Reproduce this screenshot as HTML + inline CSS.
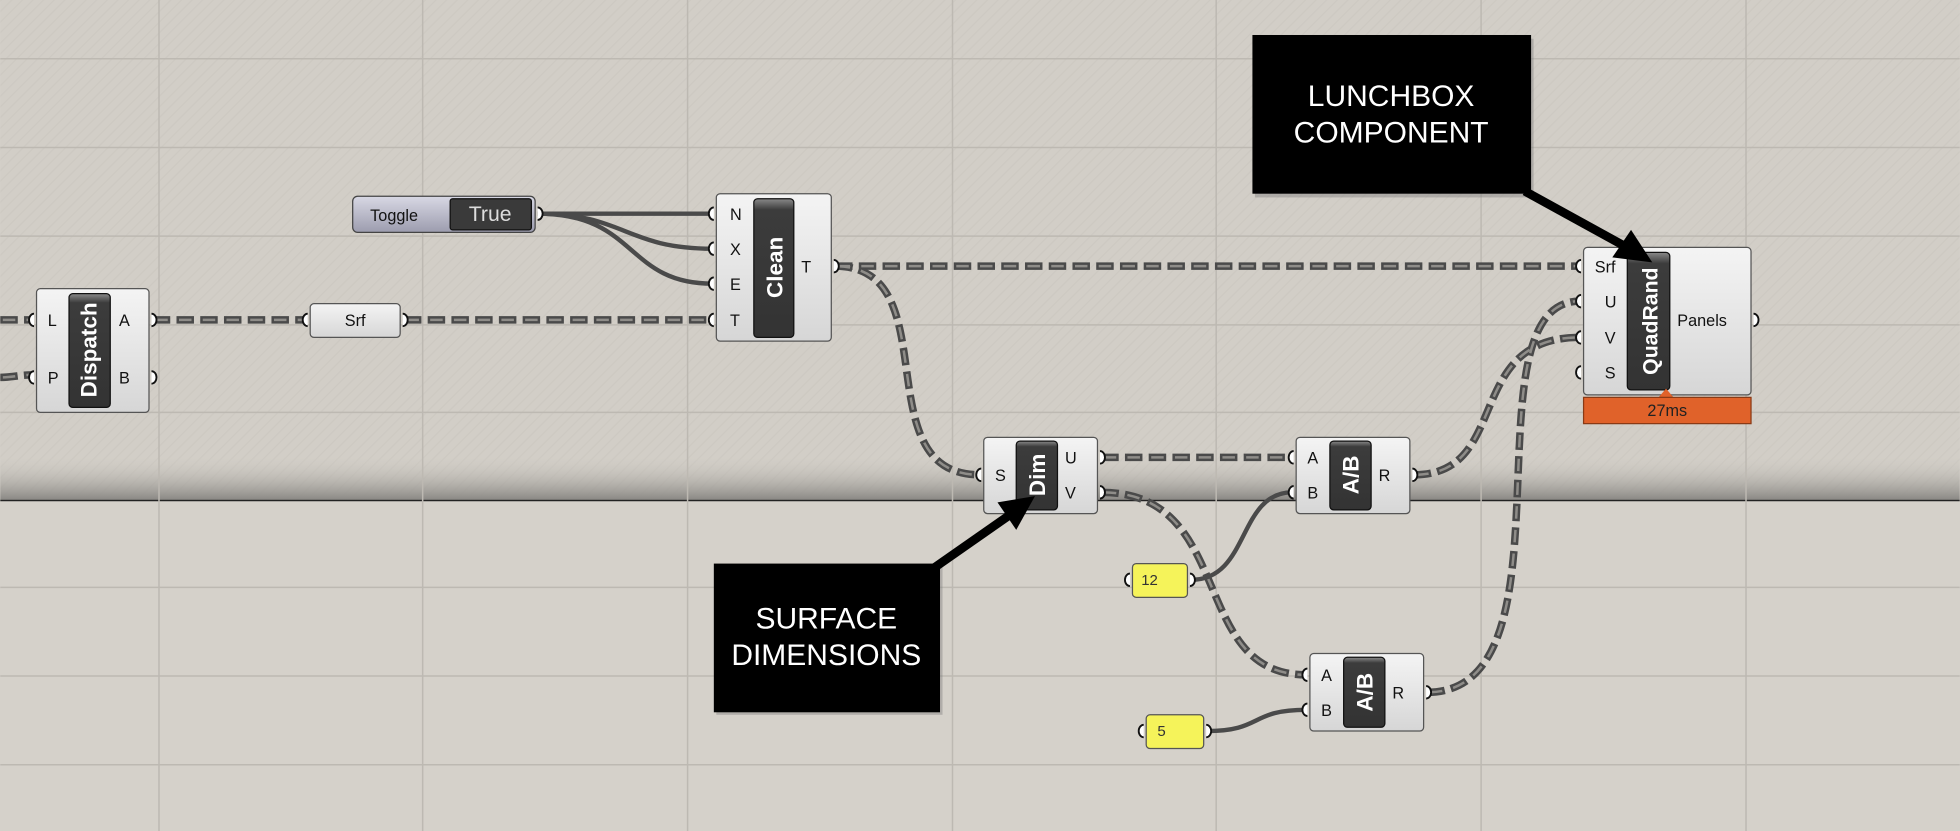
<!DOCTYPE html>
<html><head><meta charset="utf-8"><style>
html,body{margin:0;padding:0;width:1960px;height:831px;overflow:hidden;background:#d5d1ca}
svg{display:block}
text{font-family:"Liberation Sans",sans-serif}
</style></head><body>
<svg width="1960" height="831" viewBox="0 0 1568 665" xmlns="http://www.w3.org/2000/svg">
<defs>
<linearGradient id="shadow" x1="0" y1="0" x2="0" y2="1">
<stop offset="0" stop-color="#cfcbc4" stop-opacity="0"/>
<stop offset="1" stop-color="#8a8884"/>
</linearGradient>
<linearGradient id="comp" x1="0" y1="0" x2="0" y2="1">
<stop offset="0" stop-color="#f4f4f4"/><stop offset="1" stop-color="#d6d6d6"/>
</linearGradient>
<linearGradient id="bar" x1="0" y1="0" x2="0" y2="1">
<stop offset="0" stop-color="#8a8a8a"/><stop offset="0.08" stop-color="#3c3c3c"/><stop offset="1" stop-color="#333"/>
</linearGradient>
<linearGradient id="tog" x1="0" y1="0" x2="0" y2="1">
<stop offset="0" stop-color="#d8d8e4"/><stop offset="1" stop-color="#9c9cae"/>
</linearGradient>
<pattern id="hatch" width="6" height="6" patternUnits="userSpaceOnUse" patternTransform="rotate(45)">
<rect width="6" height="6" fill="#d2cec7"/><line x1="0" y1="0" x2="0" y2="6" stroke="#cdc9c2" stroke-width="2"/>
</pattern>
</defs>
<rect x="0" y="0" width="1568" height="665" fill="#d5d1ca"/>
<rect x="0" y="0" width="1568" height="400" fill="url(#hatch)"/>
<rect x="0" y="365" width="1568" height="35" fill="url(#shadow)"/>
<line x1="0" y1="400.5" x2="1568" y2="400.5" stroke="#222" stroke-width="1.2"/>
<g stroke="#bdb9b2" stroke-width="1.2">
<line x1="127" y1="0" x2="127" y2="665"/><line x1="338" y1="0" x2="338" y2="665"/>
<line x1="550" y1="0" x2="550" y2="665"/><line x1="762" y1="0" x2="762" y2="665"/>
<line x1="973" y1="0" x2="973" y2="665"/><line x1="1185" y1="0" x2="1185" y2="665"/>
<line x1="1397" y1="0" x2="1397" y2="665"/>
<line x1="0" y1="47" x2="1568" y2="47"/><line x1="0" y1="118" x2="1568" y2="118"/>
<line x1="0" y1="189" x2="1568" y2="189"/><line x1="0" y1="260" x2="1568" y2="260"/>
<line x1="0" y1="330" x2="1568" y2="330"/><line x1="0" y1="470" x2="1568" y2="470"/>
<line x1="0" y1="541" x2="1568" y2="541"/><line x1="0" y1="612" x2="1568" y2="612"/>
</g>

<g fill="none">
<g stroke="#4a4a4a" stroke-width="6" stroke-dasharray="14 5">
<path d="M0,256 L25,256"/>
<path d="M0,302 C10,302 15,300 25,300"/>
<path d="M122,256 L245,256"/>
<path d="M323,256 L570,256"/>
<path d="M668,213 L1264,213"/>
<path d="M668,213 C760,213 690,380 784,380"/>
<path d="M881,366 L1034,366"/>
<path d="M881,394 C990,394 950,540 1045,540"/>
<path d="M1131,380 C1210,380 1170,270 1264,270"/>
<path d="M1142,554 C1265,554 1170,241 1264,241"/>
</g>
<g stroke="#8f8d89" stroke-width="2" stroke-dasharray="10 9" stroke-dashoffset="-2">
<path d="M0,256 L25,256"/>
<path d="M0,302 C10,302 15,300 25,300"/>
<path d="M122,256 L245,256"/>
<path d="M323,256 L570,256"/>
<path d="M668,213 L1264,213"/>
<path d="M668,213 C760,213 690,380 784,380"/>
<path d="M881,366 L1034,366"/>
<path d="M881,394 C990,394 950,540 1045,540"/>
<path d="M1131,380 C1210,380 1170,270 1264,270"/>
<path d="M1142,554 C1265,554 1170,241 1264,241"/>
</g>
<g stroke="#4a4a4a" stroke-width="3.5">
<path d="M430,171 L570,171"/>
<path d="M430,171 C500,171 500,199 570,199"/>
<path d="M430,171 C510,171 500,227 570,227"/>
<path d="M953,464 C1000,464 990,394 1034,394"/>
<path d="M966,585 C1010,585 1000,568 1045,568"/>
</g>
</g>

<g font-size="13" fill="#111">
<rect x="29" y="231" width="90" height="99" rx="3" fill="url(#comp)" stroke="#555"/>
<rect x="55" y="235" width="33" height="91" rx="3" fill="url(#bar)" stroke="#111"/>
<text transform="translate(77,280) rotate(-90)" text-anchor="middle" font-weight="bold" font-size="18" fill="#fff">Dispatch</text>
<text x="38" y="261">L</text><text x="38" y="307">P</text>
<text x="95" y="261">A</text><text x="95" y="307">B</text>
<rect x="248" y="243" width="72" height="27" rx="3" fill="url(#comp)" stroke="#555"/>
<text x="284" y="261" text-anchor="middle">Srf</text>
<rect x="282" y="157" width="146" height="29" rx="4" fill="url(#tog)" stroke="#444"/>
<text x="296" y="177">Toggle</text>
<rect x="360" y="159" width="65" height="25" rx="2" fill="#3a3a3a" stroke="#111"/>
<text x="392" y="177" text-anchor="middle" fill="#ddd" font-family="Liberation Mono,monospace" font-size="17">True</text>
<rect x="573" y="155" width="92" height="118" rx="3" fill="url(#comp)" stroke="#555"/>
<rect x="603" y="159" width="32" height="111" rx="3" fill="url(#bar)" stroke="#111"/>
<text transform="translate(626,214) rotate(-90)" text-anchor="middle" font-weight="bold" font-size="18" fill="#fff">Clean</text>
<text x="584" y="176">N</text><text x="584" y="204">X</text><text x="584" y="232">E</text><text x="584" y="261">T</text>
<text x="641" y="218">T</text>
<rect x="787" y="350" width="91" height="61" rx="3" fill="url(#comp)" stroke="#555"/>
<rect x="813" y="353" width="33" height="55" rx="3" fill="url(#bar)" stroke="#111"/>
<text transform="translate(836,380) rotate(-90)" text-anchor="middle" font-weight="bold" font-size="18" fill="#fff">Dim</text>
<text x="796" y="385">S</text><text x="852" y="371">U</text><text x="852" y="399">V</text>
<rect x="1037" y="350" width="91" height="61" rx="3" fill="url(#comp)" stroke="#555"/>
<rect x="1064" y="353" width="33" height="55" rx="3" fill="url(#bar)" stroke="#111"/>
<text transform="translate(1087,380) rotate(-90)" text-anchor="middle" font-weight="bold" font-size="18" fill="#fff">A/B</text>
<text x="1046" y="371">A</text><text x="1046" y="399">B</text><text x="1103" y="385">R</text>
<rect x="1048" y="523" width="91" height="62" rx="3" fill="url(#comp)" stroke="#555"/>
<rect x="1075" y="526" width="33" height="56" rx="3" fill="url(#bar)" stroke="#111"/>
<text transform="translate(1098,554) rotate(-90)" text-anchor="middle" font-weight="bold" font-size="18" fill="#fff">A/B</text>
<text x="1057" y="545">A</text><text x="1057" y="573">B</text><text x="1114" y="559">R</text>
<rect x="906" y="451" width="44" height="27" rx="3" fill="#f5f35a" stroke="#555"/>
<text x="913" y="468" font-size="12" font-family="Liberation Mono,monospace" fill="#333">12</text>
<rect x="917" y="572" width="46" height="27" rx="3" fill="#f5f35a" stroke="#555"/>
<text x="926" y="589" font-size="12" font-family="Liberation Mono,monospace" fill="#333">5</text>
<rect x="1267" y="198" width="134" height="118" rx="3" fill="url(#comp)" stroke="#555"/>
<rect x="1302" y="202" width="34" height="110" rx="3" fill="url(#bar)" stroke="#111"/>
<text transform="translate(1326,257) rotate(-90)" text-anchor="middle" font-weight="bold" font-size="17" fill="#fff">QuadRand</text>
<text x="1276" y="218">Srf</text><text x="1284" y="246">U</text><text x="1284" y="275">V</text><text x="1284" y="303">S</text>
<text x="1342" y="261">Panels</text>
<polygon points="1327,318 1333,311 1339,318" fill="#e0622a"/>
<rect x="1267" y="318" width="134" height="21" fill="#e0622a" stroke="#8a3a15"/>
<text x="1334" y="333" text-anchor="middle" fill="#222">27ms</text>
</g>

<g fill="#fff" stroke="#111" stroke-width="1.5">
<path d="M27,251 a4,5 0 0 0 0,10"/><path d="M27,297 a4,5 0 0 0 0,10"/>
<path d="M121,251 a4,5 0 0 1 0,10"/><path d="M121,297 a4,5 0 0 1 0,10"/>
<path d="M246,251 a4,5 0 0 0 0,10"/><path d="M322,251 a4,5 0 0 1 0,10"/>
<path d="M430,166 a4,5 0 0 1 0,10"/>
<path d="M571,166 a4,5 0 0 0 0,10"/><path d="M571,194 a4,5 0 0 0 0,10"/><path d="M571,222 a4,5 0 0 0 0,10"/><path d="M571,251 a4,5 0 0 0 0,10"/>
<path d="M667,208 a4,5 0 0 1 0,10"/>
<path d="M785,375 a4,5 0 0 0 0,10"/><path d="M880,361 a4,5 0 0 1 0,10"/><path d="M880,389 a4,5 0 0 1 0,10"/>
<path d="M1035,361 a4,5 0 0 0 0,10"/><path d="M1035,389 a4,5 0 0 0 0,10"/><path d="M1130,375 a4,5 0 0 1 0,10"/>
<path d="M1046,535 a4,5 0 0 0 0,10"/><path d="M1046,563 a4,5 0 0 0 0,10"/><path d="M1141,549 a4,5 0 0 1 0,10"/>
<path d="M904,459 a4,5 0 0 0 0,10"/><path d="M952,459 a4,5 0 0 1 0,10"/>
<path d="M915,580 a4,5 0 0 0 0,10"/><path d="M965,580 a4,5 0 0 1 0,10"/>
<path d="M1265,208 a4,5 0 0 0 0,10"/><path d="M1265,236 a4,5 0 0 0 0,10"/><path d="M1265,265 a4,5 0 0 0 0,10"/><path d="M1265,293 a4,5 0 0 0 0,10"/>
<path d="M1403,251 a4,5 0 0 1 0,10"/>
</g>

<rect x="1004" y="31" width="223" height="127" fill="#777" opacity="0.4"/>
<rect x="1002" y="28" width="223" height="127" fill="#000"/>
<text x="1113" y="85" text-anchor="middle" fill="#fff" font-size="24">LUNCHBOX</text>
<text x="1113" y="114" text-anchor="middle" fill="#fff" font-size="24">COMPONENT</text>
<line x1="1220" y1="153" x2="1300" y2="197" stroke="#000" stroke-width="7"/>
<polygon points="1322,210 1290,206 1305,184" fill="#000"/>

<rect x="573" y="453" width="181" height="119" fill="#777" opacity="0.4"/>
<rect x="571" y="451" width="181" height="119" fill="#000"/>
<text x="661" y="503" text-anchor="middle" fill="#fff" font-size="24">SURFACE</text>
<text x="661" y="532" text-anchor="middle" fill="#fff" font-size="24">DIMENSIONS</text>
<line x1="745" y1="456" x2="808" y2="412" stroke="#000" stroke-width="7"/>
<polygon points="828,397 798,402 813,424" fill="#000"/>
</svg>
</body></html>
